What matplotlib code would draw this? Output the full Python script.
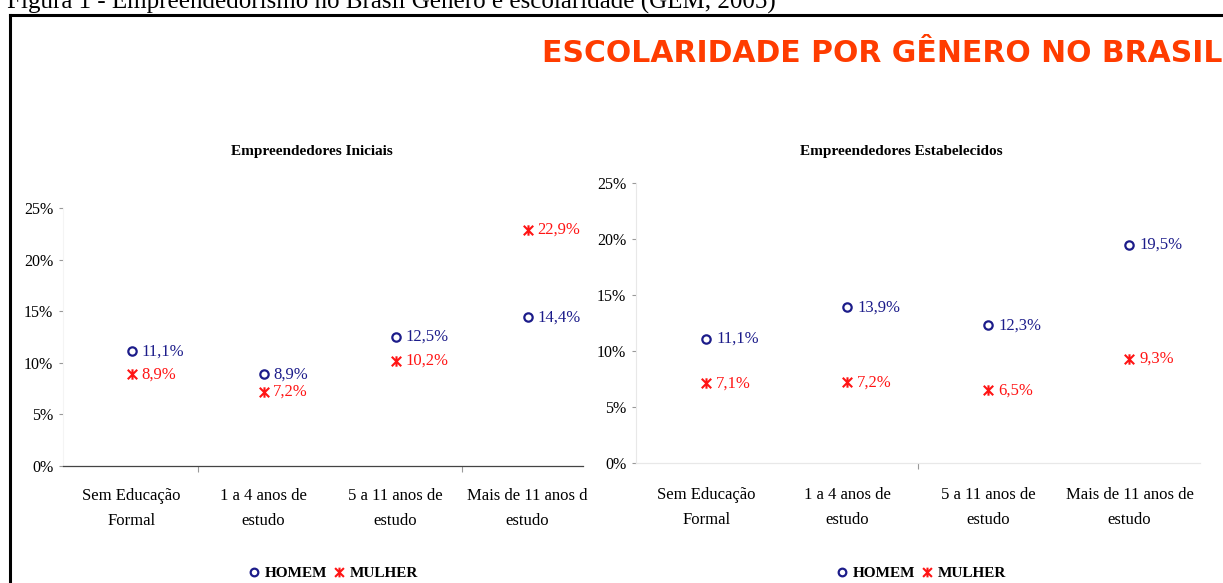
import matplotlib
matplotlib.use('Agg')
import matplotlib.pyplot as plt
from matplotlib import font_manager
from matplotlib.path import Path
from matplotlib.lines import Line2D
from matplotlib.ticker import FuncFormatter

# dados (GEM 2005) - percentuais
categorias = ['Sem Educação\nFormal', '1 a 4 anos de\nestudo', '5 a 11 anos de\nestudo', 'Mais de 11 anos de\nestudo']
categorias_iniciais = ['Sem Educação\nFormal', '1 a 4 anos de\nestudo', '5 a 11 anos de\nestudo', 'Mais de 11 anos d\nestudo']
homem_iniciais = [11.1, 8.9, 12.5, 14.4]
mulher_iniciais = [8.9, 7.2, 10.2, 22.9]
homem_estabelecidos = [11.1, 13.9, 12.3, 19.5]
mulher_estabelecidos = [7.1, 7.2, 6.5, 9.3]
ticks_y = [0, 5, 10, 15, 20, 25]

W, H = 1223, 583
AZUL = '#1c1c8a'
VERMELHO = '#ff1414'
SERIF = 'Liberation Serif'

# marcador "x com barra" parecido com o do Excel
estrela = Path([(-1, -1), (1, 1), (-1, 1), (1, -1), (0, -1.1), (0, 1.1)],
               [Path.MOVETO, Path.LINETO] * 3)

try:
    font_manager.findfont('Liberation Sans Narrow', fallback_to_default=False)
    fonte_titulo, tam_titulo = 'Liberation Sans Narrow', 27
except ValueError:
    fonte_titulo, tam_titulo = 'DejaVu Sans', 21.5

fig = plt.figure(figsize=(W / 100, H / 100), dpi=100)
fig.patch.set_facecolor('white')


def rotulo(v):
    return f'{v:.1f}'.replace('.', ',') + '%'


def grafico(ax, homem, mulher, cats, cor_eixo, cor_y, ticks_x, pad_x):
    x = range(len(homem))
    ax.plot(x, homem, linestyle='none', marker='o', ms=6, mfc='none', mec=AZUL, mew=1.6)
    ax.plot(x, mulher, linestyle='none', marker=estrela, ms=7.5, mfc='none', mec=VERMELHO, mew=1.5)
    for i in x:
        ax.annotate(rotulo(homem[i]), (i, homem[i]), xytext=(7, 0), textcoords='offset points',
                    va='center', ha='left', color=AZUL, fontsize=12, family=SERIF)
        ax.annotate(rotulo(mulher[i]), (i, mulher[i]), xytext=(7, 0), textcoords='offset points',
                    va='center', ha='left', color=VERMELHO, fontsize=12, family=SERIF)
    ax.set_ylim(0, 25)
    ax.set_yticks(ticks_y)
    ax.yaxis.set_major_formatter(FuncFormatter(lambda v, p: f'{v:.0f}%'))
    ax.tick_params(axis='y', length=3, width=0.8, color='#999999', pad=4, labelsize=11.5)
    ax.set_xticks(list(x))
    ax.set_xticklabels(cats, fontsize=12, family=SERIF, linespacing=1.75)
    ax.set_xticks(ticks_x, minor=True)
    ax.tick_params(axis='x', which='major', length=0, pad=pad_x)
    ax.tick_params(axis='x', which='minor', length=4, width=0.8, color='#999999')
    for lab in ax.get_yticklabels():
        lab.set_family(SERIF)
    for s in ['top', 'right']:
        ax.spines[s].set_visible(False)
    ax.spines['bottom'].set_color(cor_eixo)
    ax.spines['bottom'].set_linewidth(0.9)
    ax.spines['left'].set_color(cor_y)
    ax.spines['left'].set_linewidth(0.8)
    ax.patch.set_alpha(0)


ax1 = fig.add_axes([63 / W, 117 / H, 520 / W, 258 / H])
grafico(ax1, homem_iniciais, mulher_iniciais, categorias_iniciais, '#444444', '#f4f4f4', [0.5, 2.5], 16)
ax1.set_xlim(-0.52, 3.42)

ax2 = fig.add_axes([636 / W, 120 / H, 564 / W, 280 / H])
grafico(ax2, homem_estabelecidos, mulher_estabelecidos, categorias, '#e8e8e8', '#e8e8e8', [1.5], 17)
ax2.set_xlim(-0.5, 3.5)

# titulos dos graficos
fig.text(312 / W, 1 - 152 / H, 'Empreendedores Iniciais', ha='center', va='center',
         fontsize=11, weight='bold', family=SERIF)
fig.text(901 / W, 1 - 152 / H, 'Empreendedores Estabelecidos', ha='center', va='center',
         fontsize=11, weight='bold', family=SERIF)

fig.text(1222 / W, 1 - 62 / H, 'ESCOLARIDADE POR GÊNERO NO BRASIL', ha='right', va='baseline',
         fontsize=tam_titulo, weight='bold', color='#ff3c00', family=fonte_titulo)

# legenda
handles = [Line2D([], [], linestyle='none', marker='o', ms=5.5, mfc='none', mec=AZUL, mew=1.6),
           Line2D([], [], linestyle='none', marker=estrela, ms=7, mfc='none', mec=VERMELHO, mew=1.5)]
for cx in [333, 921]:
    fig.legend(handles, ['HOMEM', 'MULHER'], loc='center', bbox_to_anchor=(cx / W, 1 - 573 / H),
               ncol=2, frameon=False, handlelength=0.8, handletextpad=0.3, columnspacing=0.4,
               prop={'family': SERIF, 'weight': 'bold', 'size': 11})

# legenda da figura (cortada no topo, como na imagem original) e moldura
fig.text(7 / W, 1 - 9 / H, 'Figura 1 - Empreendedorismo no Brasil Gênero e escolaridade (GEM, 2005)',
         ha='left', va='baseline', fontsize=18, family=SERIF)
fig.add_artist(Line2D([9.5 / W, 9.5 / W], [0, 1 - 14.5 / H], color='black', lw=2.2,
                      transform=fig.transFigure, solid_capstyle='projecting'))
fig.add_artist(Line2D([9.5 / W, 1], [1 - 14.5 / H, 1 - 14.5 / H], color='black', lw=2.2,
                      transform=fig.transFigure, solid_capstyle='projecting'))

fig.savefig('out.png', dpi=100)
